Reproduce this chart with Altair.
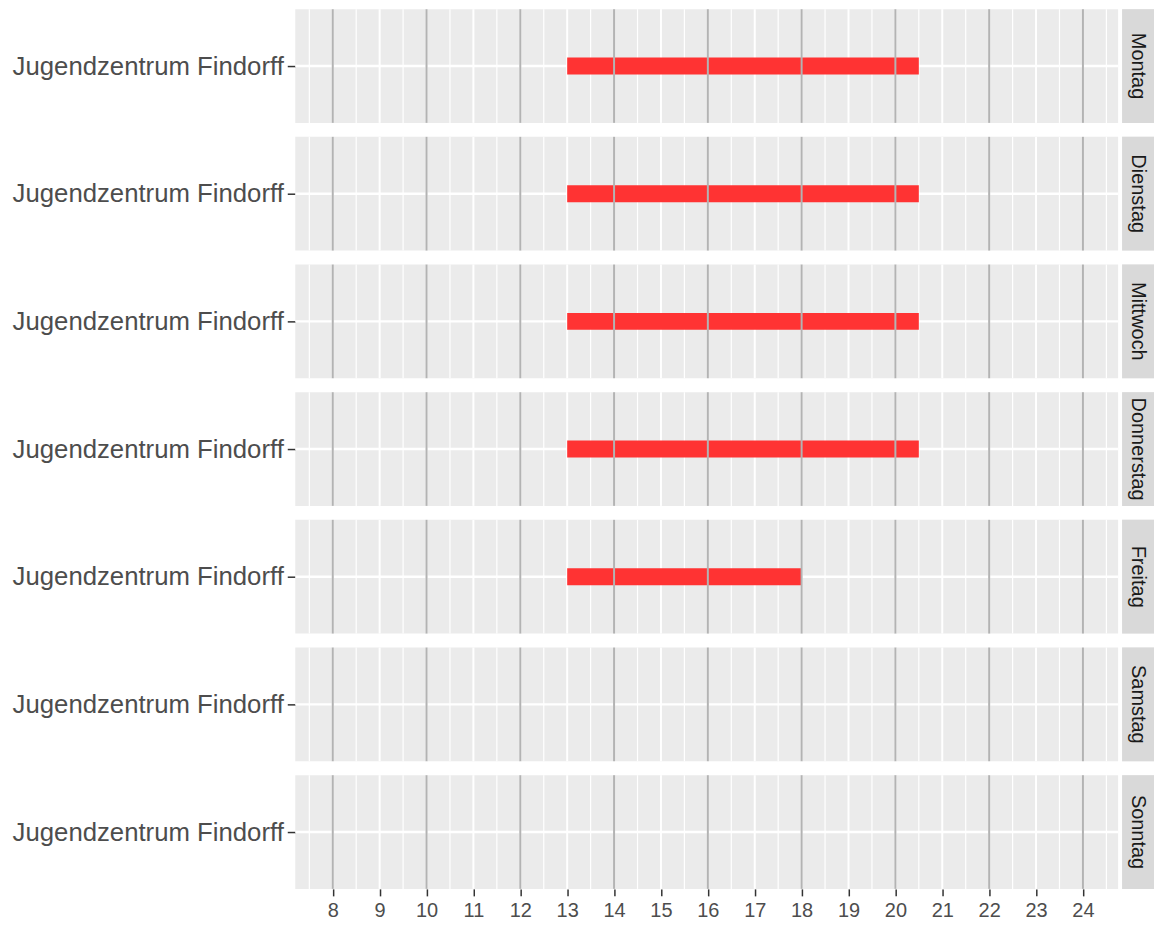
import altair as alt
import pandas as pd

# ---- data ----
days = ["Montag", "Dienstag", "Mittwoch", "Donnerstag", "Freitag", "Samstag", "Sonntag"]
place = "Jugendzentrum Findorff"
open_from = [13, 13, 13, 13, 13, None, None]
open_to = [20.5, 20.5, 20.5, 20.5, 18, None, None]
hour_ticks = [8, 9, 10, 11, 12, 13, 14, 15, 16, 17, 18, 19, 20, 21, 22, 23, 24]
minor_grid = [7.5, 8.5, 9.5, 10.5, 11.5, 12.5, 13.5, 14.5, 15.5, 16.5, 17.5,
              18.5, 19.5, 20.5, 21.5, 22.5, 23.5, 24.5]
even_lines = [8, 10, 12, 14, 16, 18, 20, 22, 24]
x_domain = [7.2, 24.75]

PANEL_W = 825
PANEL_H = 114
STRIP_W = 32
FONT = "Liberation Sans"

xscale = alt.Scale(domain=x_domain, nice=False, zero=False)
yscale = alt.Scale(type="point", domain=[place], padding=0.5)

x_axis_last = alt.Axis(values=hour_ticks, grid=False, domain=False, title=None,
                       tickColor="#333333", tickSize=7, tickWidth=1.5,
                       labelFontSize=20, labelColor="#4d4d4d", labelPadding=5,
                       labelFont=FONT, format="d")
y_axis = alt.Axis(title=None, grid=False, domain=False, tickColor="#333333",
                  tickSize=8, tickWidth=1.5, labelFontSize=25.8, labelColor="#4d4d4d",
                  labelPadding=4, labelFont=FONT, labelLimit=0)

df_minor = pd.DataFrame({"x": minor_grid})
df_major = pd.DataFrame({"x": hour_ticks})
df_even = pd.DataFrame({"x": even_lines})
df_place = pd.DataFrame({"ort": [place]})


def panel(i, last):
    xa = x_axis_last if last else None
    layers = []
    layers.append(alt.Chart(df_minor).mark_rule(color="white", strokeWidth=1.2).encode(
        x=alt.X("x:Q", scale=xscale, axis=xa)))
    layers.append(alt.Chart(df_major).mark_rule(color="white", strokeWidth=2).encode(
        x=alt.X("x:Q", scale=xscale, axis=xa)))
    layers.append(alt.Chart(df_place).mark_rule(color="white", strokeWidth=2.5).encode(
        y=alt.Y("ort:N", scale=yscale, axis=y_axis)))
    if open_from[i] is not None:
        df_bar = pd.DataFrame({"ort": [place], "von": [open_from[i]], "bis": [open_to[i]]})
        layers.append(alt.Chart(df_bar).mark_rule(color="#ff3333", strokeWidth=17,
                                                  strokeCap="butt").encode(
            x=alt.X("von:Q", scale=xscale, axis=xa),
            x2="bis:Q",
            y=alt.Y("ort:N", scale=yscale, axis=y_axis)))
    layers.append(alt.Chart(df_even).mark_rule(color="#b3b3b3", strokeWidth=2).encode(
        x=alt.X("x:Q", scale=xscale, axis=xa)))
    return alt.layer(*layers).properties(width=PANEL_W, height=PANEL_H)


def strip(i):
    df = pd.DataFrame({"tag": [days[i]]})
    bg = alt.Chart(df).mark_rect(color="#d9d9d9").encode(
        x=alt.value(0), x2=alt.value(STRIP_W), y=alt.value(0), y2=alt.value(PANEL_H))
    txt = alt.Chart(df).mark_text(angle=90, fontSize=20, color="#1a1a1a", font=FONT,
                                  align="center", baseline="middle").encode(
        text="tag:N", x=alt.value(STRIP_W / 2), y=alt.value(PANEL_H / 2))
    return alt.layer(bg, txt).properties(width=STRIP_W, height=PANEL_H)


n = len(days)
panels = alt.vconcat(*[panel(i, i == n - 1) for i in range(n)], spacing=14, bounds="flush")
strips = alt.vconcat(*[strip(i) for i in range(n)], spacing=14, bounds="flush")

chart = alt.hconcat(panels, strips, spacing=2).properties(
    padding={"top": -1, "left": 4, "right": 0, "bottom": 0}
).configure(font=FONT).configure_view(stroke=None, fill="#ebebeb")

chart.save("out.html", embed_options={"renderer": "svg", "actions": False})
